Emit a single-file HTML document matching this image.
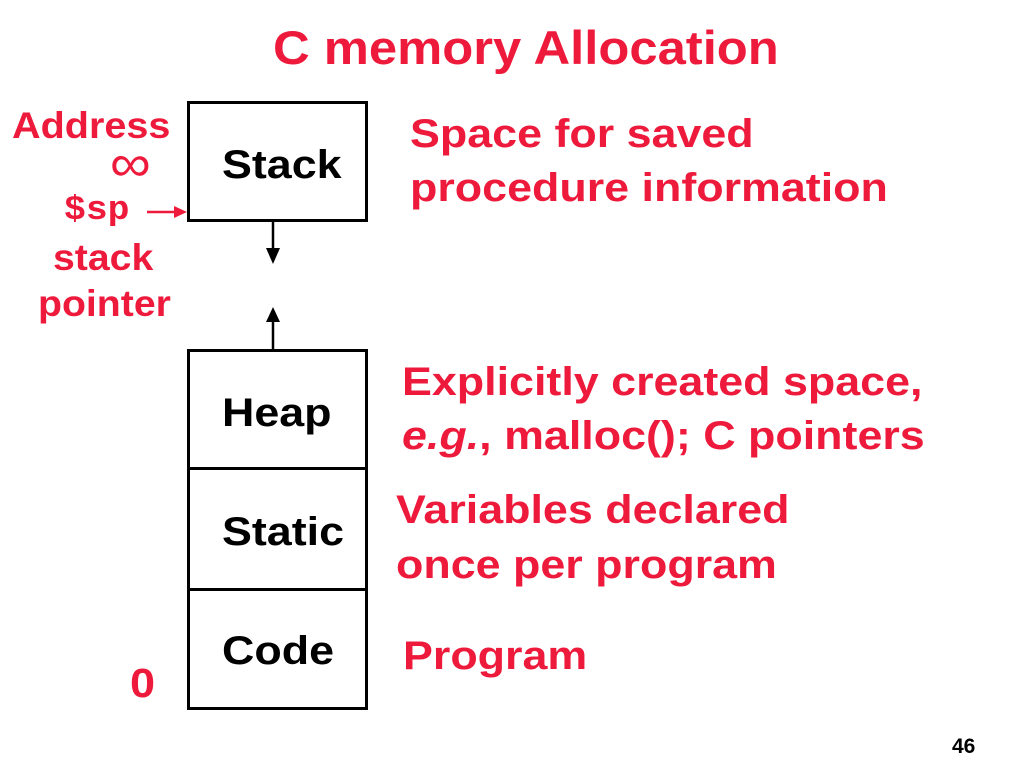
<!DOCTYPE html>
<html><head><style>
body{margin:0;width:1024px;height:768px;background:#fff;position:relative;overflow:hidden;font-family:"Liberation Sans",sans-serif;font-weight:bold}
.t{position:absolute;white-space:nowrap;transform-origin:0 0}
.s{transform:scaleX(1.12)}
.r{color:#ee1a3c}
.k{color:#000}
.box{position:absolute;border:3px solid #000;box-sizing:border-box;left:187px;width:181px}
</style></head><body>
<div class="t r" style="left:273px;top:20px;font-size:47px;transform:scaleX(1.08)">C memory Allocation</div>
<div class="t r" style="left:12px;top:105px;font-size:37px;transform:scaleX(1.07)">Address</div>
<div class="t r" style="left:110px;top:134px;font-size:52px;font-weight:normal;transform:scaleX(1.1)">∞</div>
<div class="t r" style="left:64px;top:192px;font-size:34px;font-family:'Liberation Mono',monospace;transform:scaleX(1.07)">$sp</div>
<div class="t r" style="left:53px;top:237px;font-size:37px;transform:scaleX(1.06)">stack</div>
<div class="t r" style="left:38px;top:283px;font-size:37px;transform:scaleX(1.06)">pointer</div>
<div class="t r" style="left:130px;top:660px;font-size:41px;transform:scaleX(1.1)">0</div>
<div class="box" style="top:101px;height:121px"></div>
<div class="box" style="top:349px;height:121px"></div>
<div class="box" style="top:467px;height:124px"></div>
<div class="box" style="top:588px;height:122px"></div>
<div class="t k s" style="left:222px;top:143px;font-size:40px">Stack</div>
<div class="t k s" style="left:222px;top:391px;font-size:40px">Heap</div>
<div class="t k s" style="left:222px;top:510px;font-size:40px">Static</div>
<div class="t k s" style="left:222px;top:629px;font-size:40px">Code</div>
<svg style="position:absolute;left:0;top:0" width="1024" height="768">
<line x1="273" y1="221" x2="273" y2="250" stroke="#000" stroke-width="2.5"/>
<polygon points="266,248 280,248 273,264" fill="#000"/>
<line x1="273" y1="320" x2="273" y2="350" stroke="#000" stroke-width="2.5"/>
<polygon points="266,322 280,322 273,307" fill="#000"/>
<line x1="147" y1="212" x2="176" y2="212" stroke="#ee1a3c" stroke-width="2.5"/>
<polygon points="174,206 187,212 174,218" fill="#ee1a3c"/>
</svg>
<div class="t r s" style="left:410px;top:112px;font-size:40px">Space for saved</div>
<div class="t r s" style="left:410px;top:166px;font-size:40px">procedure information</div>
<div class="t r s" style="left:402px;top:360px;font-size:40px">Explicitly created space,</div>
<div class="t r s" style="left:402px;top:414px;font-size:40px"><i>e.g.</i>, malloc(); C pointers</div>
<div class="t r s" style="left:396px;top:488px;font-size:40px">Variables declared</div>
<div class="t r s" style="left:396px;top:543px;font-size:40px">once per program</div>
<div class="t r s" style="left:403px;top:634px;font-size:40px">Program</div>
<div class="t k" style="left:952px;top:735px;font-size:21px">46</div>
</body></html>
